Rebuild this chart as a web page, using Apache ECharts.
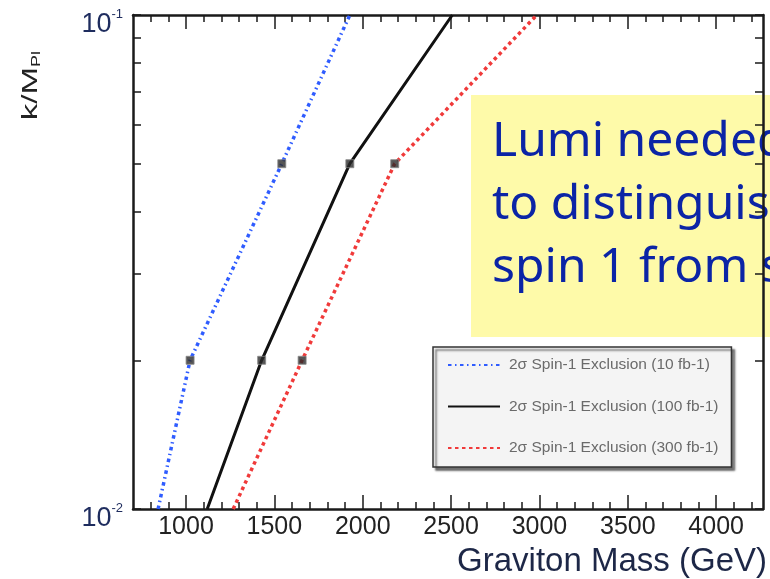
<!DOCTYPE html>
<html>
<head>
<meta charset="utf-8">
<script src="https://cdn.jsdelivr.net/npm/echarts@6/dist/echarts.min.js"></script>
<style>
    html, body { margin: 0; padding: 0; background: #fff; }
    #chart { width: 770px; height: 579px; }
</style>
</head>
<body>
<div id="chart"></div>
<script>
    // coupling values k/M_Pl shared by all three curves
    var kValues = [0.01, 0.02, 0.05, 0.1];
    // graviton mass (GeV) at those couplings
    var mass10 = [842, 1023, 1542, 1927];
    var mass100 = [1120, 1428, 1927, 2507];
    var mass300 = [1267, 1657, 2181, 2985];
    var seriesNames = [
        '2σ Spin-1 Exclusion (10 fb-1)',
        '2σ Spin-1 Exclusion (100 fb-1)',
        '2σ Spin-1 Exclusion (300 fb-1)'
    ];
    var xMajorTicks = [1000, 1500, 2000, 2500, 3000, 3500, 4000];
    var xMinorTicks = [800, 900, 1100, 1200, 1300, 1400, 1600, 1700, 1800, 1900,
        2100, 2200, 2300, 2400, 2600, 2700, 2800, 2900, 3100, 3200, 3300, 3400,
        3600, 3700, 3800, 3900, 4100, 4200];
    var yTicks = [0.01, 0.02, 0.03, 0.04, 0.05, 0.06, 0.07, 0.08, 0.09, 0.1];
    var yLabels = [0.01, 0.1];
    var noteLines = ['Lumi needed', 'to distinguish', 'spin 1 from spin 2'];

    var X_MIN = 700, X_MAX = 4265;
    var FRAME = '#1a1a1a';
    var SANS = 'Liberation Sans, Arial, sans-serif';

    function pairs(masses) {
        var out = [];
        for (var i = 0; i < masses.length; i++) {
            out.push([masses[i], kValues[i]]);
        }
        return out;
    }

    function markers(masses) {
        // the black squares sit on the two inner points of each curve
        return [[masses[1], kValues[1]], [masses[2], kValues[2]]];
    }

    function xAxis(position, ticks, len, showLine, showLabel) {
        return {
            type: 'value',
            position: position,
            min: X_MIN,
            max: X_MAX,
            axisLine: { show: showLine, onZero: false, lineStyle: { color: FRAME, width: 2.5 } },
            axisTick: { show: true, inside: true, length: len, customValues: ticks, lineStyle: { color: FRAME, width: 1.5 } },
            axisLabel: {
                show: showLabel,
                customValues: xMajorTicks,
                margin: 6,
                color: '#222',
                fontFamily: SANS,
                fontSize: 25,
                formatter: function (v) {
                    return String(v);
                }
            },
            splitLine: { show: false }
        };
    }

    function yAxis(position, showLabel) {
        return {
            type: 'log',
            logBase: 10,
            position: position,
            min: 0.01,
            max: 0.1,
            axisLine: { show: true, onZero: false, lineStyle: { color: FRAME, width: 2.5 } },
            axisTick: { show: true, inside: true, length: 8, customValues: yTicks, lineStyle: { color: FRAME, width: 1.5 } },
            axisLabel: {
                show: showLabel,
                customValues: yLabels,
                margin: 10,
                padding: [16, 0, 0, 0],
                formatter: function (v) {
                    return '{b|10}{s|' + Math.round(Math.log10(v)) + '}';
                },
                rich: {
                    b: { fontSize: 27, color: '#1e2c5e', fontFamily: SANS, verticalAlign: 'bottom', lineHeight: 30 },
                    s: { fontSize: 13, color: '#1e2c5e', fontFamily: SANS, verticalAlign: 'top', lineHeight: 14 }
                }
            },
            splitLine: { show: false }
        };
    }

    var chart = echarts.init(document.getElementById('chart'));

    var xTitle = xAxis('bottom', xMajorTicks, 14, true, true);
    xTitle.name = 'Graviton Mass (GeV)';
    xTitle.nameLocation = 'end';
    xTitle.nameGap = 4;
    xTitle.nameTextStyle = {
        align: 'right',
        verticalAlign: 'top',
        padding: [36, 0, 0, 0],
        color: '#1d2747',
        fontFamily: SANS,
        fontSize: 33
    };

    var option = {
        animation: false,
        backgroundColor: '#fff',
        grid: { left: 133, right: 6, top: 15, bottom: 70 },
        xAxis: [
            xTitle,
            xAxis('bottom', xMinorTicks, 7, false, false),
            xAxis('top', xMajorTicks, 14, true, false),
            xAxis('top', xMinorTicks, 7, false, false)
        ],
        yAxis: [
            yAxis('left', true),
            yAxis('right', false)
        ],
        legend: {
            data: seriesNames,
            orient: 'vertical',
            left: 433,
            top: 347,
            itemWidth: 52,
            itemHeight: 14,
            itemGap: 25.5,
            padding: [10, 13, 11, 14],
            backgroundColor: '#f4f4f4',
            borderColor: '#333',
            borderWidth: 1.5,
            shadowColor: 'rgba(0,0,0,0.55)',
            shadowBlur: 2,
            shadowOffsetX: 3,
            shadowOffsetY: 3,
            itemStyle: { opacity: 0 },
            textStyle: {
                color: '#6a6a6a',
                fontFamily: SANS,
                fontSize: 15.5,
                padding: [0, 0, 0, 4]
            }
        },
        graphic: [
            {
                type: 'text',
                left: 20,
                top: 51,
                rotation: Math.PI / 2,
                scaleX: 1.5,
                style: {
                    text: '{a|k/M}{b|Pl}',
                    rich: {
                        a: { fontSize: 22, fill: '#222', fontFamily: SANS, lineHeight: 24, verticalAlign: 'middle' },
                        b: { fontSize: 12, fill: '#222', fontFamily: SANS, lineHeight: 12, verticalAlign: 'bottom' }
                    }
                }
            },
            {
                type: 'group',
                left: 471,
                top: 95,
                z: 100,
                children: [
                    {
                        type: 'rect',
                        shape: { x: 0, y: 0, width: 310, height: 242 },
                        style: { fill: '#fefaa9' }
                    },
                    {
                        type: 'text',
                        x: 21,
                        y: 16,
                        style: {
                            text: noteLines.join('\n'),
                            fill: '#0b24a6',
                            font: '48px "Comic Sans MS", "Noto Sans", sans-serif',
                            lineHeight: 63
                        }
                    }
                ]
            }
        ],
        series: [
            {
                name: seriesNames[0],
                type: 'line',
                data: pairs(mass10),
                symbol: 'none',
                lineStyle: { color: '#2f5cff', width: 3.5, type: [3.5, 3.5, 1.5, 3.5] },
                itemStyle: { color: '#2f5cff' },
                z: 3
            },
            {
                name: seriesNames[1],
                type: 'line',
                data: pairs(mass100),
                symbol: 'none',
                lineStyle: { color: '#111', width: 3, type: 'solid' },
                itemStyle: { color: '#111' },
                z: 3
            },
            {
                name: seriesNames[2],
                type: 'line',
                data: pairs(mass300),
                symbol: 'none',
                lineStyle: { color: '#f03a3a', width: 3.5, type: [3.5, 3.5] },
                itemStyle: { color: '#f03a3a' },
                z: 3
            },
            {
                type: 'scatter',
                data: markers(mass10).concat(markers(mass100), markers(mass300)),
                symbol: 'rect',
                symbolSize: 8,
                itemStyle: { color: '#2a2a2a', borderColor: '#888', borderWidth: 1 },
                z: 4
            }
        ]
    };

    chart.setOption(option);
</script>
</body>
</html>
